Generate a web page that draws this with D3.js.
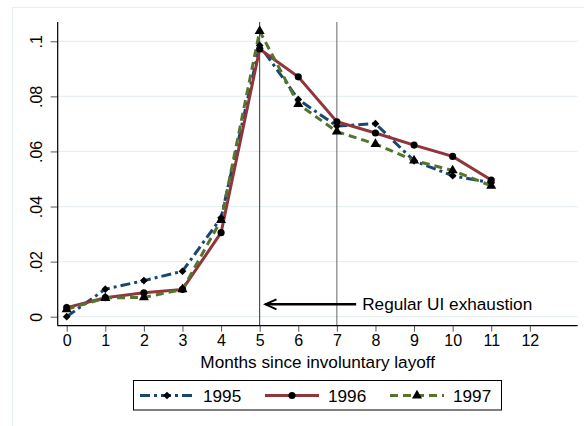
<!DOCTYPE html>
<html><head><meta charset="utf-8">
<script src="https://cdn.jsdelivr.net/npm/d3@7"></script>
<style>body{margin:0;background:#fff}svg{display:block}text{font-family:"Liberation Sans",Arial,sans-serif;fill:#000}</style>
</head><body>
<svg id="c" width="584" height="426"></svg>
<script>
const months = [0,1,2,3,4,5,6,7,8,9,10,11];
const xTicks = [0,1,2,3,4,5,6,7,8,9,10,11,12];
const yTicks = [0,0.02,0.04,0.06,0.08,0.1];
const yTickLabels = ["0",".02",".04",".06",".08",".1"];
const years = ["1995","1996","1997"];
const v1995 = [0.0000,0.0100,0.0131,0.0165,0.0359,0.0985,0.0789,0.0692,0.0701,0.0566,0.0512,0.0486];
const v1996 = [0.0033,0.0069,0.0087,0.0099,0.0305,0.0972,0.0871,0.0708,0.0667,0.0623,0.0582,0.0496];
const v1997 = [0.0027,0.0068,0.0070,0.0099,0.0351,0.1037,0.0772,0.0672,0.0627,0.0567,0.0531,0.0475];
const refLines = [5,7];
const annotation = {text:"Regular UI exhaustion", fromX:7.5, toX:5.15, y:0.0045};
const xTitle = "Months since involuntary layoff";

const series = [
  {name:years[0], values:v1995, color:"#1a476f", dash:"10,4,3,4", marker:"diamond"},
  {name:years[1], values:v1996, color:"#90353b", dash:null, marker:"circle"},
  {name:years[2], values:v1997, color:"#55752f", dash:"8,5", marker:"triangle"}
];

const svg = d3.select("#c");
const L=57.7, R=577.7, T=22, B=325.7;
const x = d3.scaleLinear().domain([-0.233,13.24]).range([L,R]);
const y = d3.scaleLinear().domain([-0.00327,0.1070]).range([B,T]);

// outer border
svg.append("rect").attr("x",12.5).attr("y",7.5).attr("width",600).attr("height",500)
  .attr("fill","#fff").attr("stroke","#e6eef0").attr("stroke-width",1);

// gridlines
svg.append("g").selectAll("line").data(yTicks).join("line")
  .attr("x1",L).attr("x2",R).attr("y1",d=>y(d)).attr("y2",d=>y(d))
  .attr("stroke","#e6eff1").attr("stroke-width",1.2);

// reference lines
svg.append("g").selectAll("line").data(refLines).join("line")
  .attr("x1",d=>x(d)).attr("x2",d=>x(d)).attr("y1",T).attr("y2",B)
  .attr("stroke",(d,i)=>i===0?"#333":"#666").attr("stroke-width",1);

// axes
const xAxis = d3.axisBottom(x).tickValues(xTicks).tickSize(6).tickPadding(3).tickFormat(d3.format("d"));
const gx = svg.append("g").attr("transform",`translate(0,${B})`).call(xAxis);
gx.select(".domain").remove();
gx.append("line").attr("x1",L).attr("x2",R).attr("stroke","#000").attr("stroke-width",1.2);
gx.selectAll(".tick line").attr("stroke","#555");
gx.selectAll(".tick text").attr("font-size",16).attr("font-family","Liberation Sans, Arial, sans-serif").attr("fill","#000");

const yAxis = d3.axisLeft(y).tickValues(yTicks).tickSize(7).tickFormat((d,i)=>yTickLabels[i]);
const gy = svg.append("g").attr("transform",`translate(${L},0)`).call(yAxis);
gy.select(".domain").remove();
gy.append("line").attr("y1",T).attr("y2",B).attr("stroke","#000").attr("stroke-width",1.2);
gy.selectAll(".tick line").attr("stroke","#555");
gy.selectAll(".tick text").attr("font-size",16).attr("font-family","Liberation Sans, Arial, sans-serif").attr("fill","#000")
  .attr("transform","rotate(-90)").attr("x",0).attr("y",-15.5).attr("dy","0").attr("text-anchor","middle")
  .attr("dominant-baseline","auto");

// lines
const line = d3.line().x((d,i)=>x(months[i])).y(d=>y(d));
const sym = {diamond:d3.symbol().type(d3.symbolSquare).size(30),
             circle:d3.symbol().type(d3.symbolCircle).size(40),
             triangle:d3.symbol().type(d3.symbolTriangle).size(44)};
const rot = {diamond:45, circle:0, triangle:0};
series.forEach(s=>{
  svg.append("path").datum(s.values).attr("d",line).attr("fill","none")
    .attr("stroke",s.color).attr("stroke-width",3).attr("stroke-dasharray",s.dash);
});
series.forEach(s=>{
  svg.append("g").selectAll("path").data(s.values).join("path")
    .attr("d",sym[s.marker]).attr("transform",(d,i)=>`translate(${x(months[i])},${y(d)}) rotate(${rot[s.marker]})`)
    .attr("fill","#000");
});

// annotation arrow
const ay = y(annotation.y);
const ax1 = x(annotation.toX), ax0 = x(annotation.fromX);
svg.append("line").attr("x1",ax0).attr("x2",ax1).attr("y1",ay).attr("y2",ay)
  .attr("stroke","#000").attr("stroke-width",2.6);
svg.append("path").attr("d",`M${ax1+11},${ay-5}L${ax1},${ay}L${ax1+11},${ay+5}`)
  .attr("fill","none").attr("stroke","#000").attr("stroke-width",2);
svg.append("text").attr("x",ax0+6).attr("y",ay+6).attr("font-size",17.2).text(annotation.text);

// x title
svg.append("text").attr("x",(L+R)/2).attr("y",368).attr("text-anchor","middle").attr("font-size",17.2).text(xTitle);

// legend
const lg = svg.append("g");
lg.append("rect").attr("x",133.5).attr("y",380.5).attr("width",368).attr("height",29.5)
  .attr("fill","#fff").attr("stroke","#000").attr("stroke-width",1);
const lx = [140,265,390];
const ly = 395.5;
series.forEach((s,i)=>{
  lg.append("line").attr("x1",lx[i]).attr("x2",lx[i]+54).attr("y1",ly).attr("y2",ly)
    .attr("stroke",s.color).attr("stroke-width",3).attr("stroke-dasharray",s.dash);
  lg.append("path").attr("d",sym[s.marker]).attr("transform",`translate(${lx[i]+27},${ly}) rotate(${rot[s.marker]})`).attr("fill","#000");
  lg.append("text").attr("x",lx[i]+63).attr("y",ly+6).attr("font-size",17.2).text(s.name);
});
</script>
</body></html>
